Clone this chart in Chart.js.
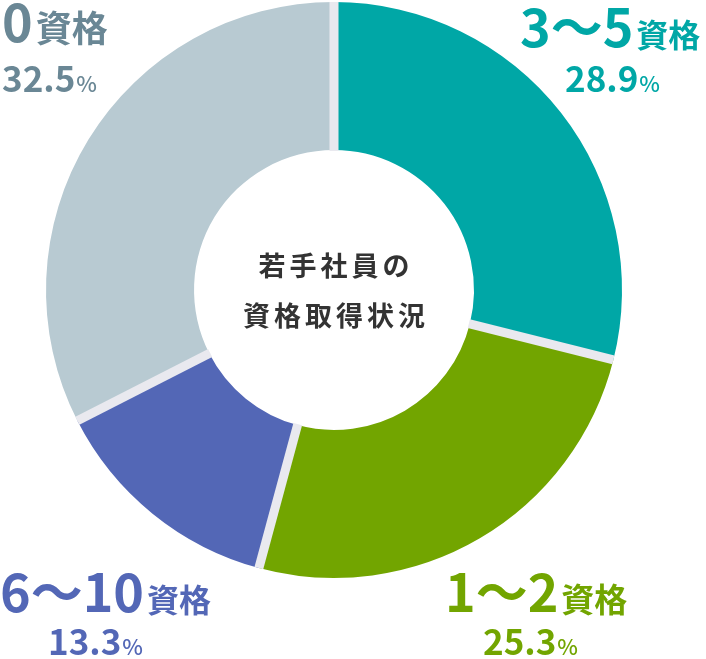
<!DOCTYPE html>
<html lang="ja">
<head>
<meta charset="utf-8">
<script src="https://cdn.jsdelivr.net/npm/chart.js@4"></script>
<style>
  html, body { margin: 0; padding: 0; background: #fff; }
  #wrap { width: 706px; height: 659px; position: relative; }
</style>
</head>
<body>
<div id="wrap"><canvas id="doughnut"></canvas></div>
<script>
const categories = ['3〜5', '1〜2', '6〜10', '0'];
const unitLabel = '資格';
const shares = [28.9, 25.3, 13.3, 32.5];
const centerLines = ['若手社員の', '資格取得状況'];

const sliceColors = ['#00a7a6', '#72a500', '#5367b6', '#b8cad2'];
const textColors = ['#00a7a6', '#72a500', '#5367b6', '#6a8795'];
const sepColor = '#e9e9ef';
const font = '"Noto Sans CJK JP", "Noto Sans", sans-serif';

// where each outer label sits: x of heading / percent, baselines, unit size
const labelPos = [
  { hx: 520, hy: 47, px: 565, py: 92, us: 32 },
  { hx: 445, hy: 612, px: 483, py: 655, us: 33 },
  { hx: 0, hy: 612, px: 48, py: 655, us: 32 },
  { hx: 2, hy: 42, px: 2, py: 92, us: 36 }
];

function drawRun(ctx, x, y, parts) {
  parts.forEach(p => {
    ctx.font = p.f;
    ctx.fillText(p.t, x, y);
    x += ctx.measureText(p.t).width + (p.gap || 0);
  });
}

const ringGaps = {
  id: 'ringGaps',
  afterDatasetsDraw(chart) {
    const ctx = chart.ctx;
    const arcs = chart.getDatasetMeta(0).data;
    ctx.save();
    ctx.strokeStyle = sepColor;
    ctx.lineWidth = 9;
    ctx.lineCap = 'butt';
    arcs.forEach(a => {
      const c = Math.cos(a.startAngle), s = Math.sin(a.startAngle);
      ctx.beginPath();
      ctx.moveTo(a.x + c * (a.innerRadius - 1), a.y + s * (a.innerRadius - 1));
      ctx.lineTo(a.x + c * a.outerRadius, a.y + s * a.outerRadius);
      ctx.stroke();
    });
    ctx.restore();
  }
};

const texts = {
  id: 'texts',
  afterDraw(chart) {
    const ctx = chart.ctx;
    const a = chart.getDatasetMeta(0).data[0];
    ctx.save();
    ctx.textBaseline = 'alphabetic';
    ctx.textAlign = 'left';
    categories.forEach((cat, i) => {
      const p = labelPos[i];
      ctx.fillStyle = textColors[i];
      drawRun(ctx, p.hx, p.hy, [
        { t: cat, f: 'bold 52px ' + font, gap: 3 },
        { t: unitLabel, f: 'bold ' + p.us + 'px ' + font }
      ]);
      drawRun(ctx, p.px, p.py, [
        { t: shares[i].toFixed(1), f: 'bold 35px ' + font, gap: 1 },
        { t: '%', f: '500 22px ' + font }
      ]);
    });
    ctx.fillStyle = '#333333';
    ctx.textAlign = 'center';
    ctx.textBaseline = 'middle';
    ctx.font = 'bold 27px ' + font;
    ctx.letterSpacing = '4px';
    ctx.fillText(centerLines[0], a.x + 2, a.y - 24);
    ctx.fillText(centerLines[1], a.x + 2, a.y + 26);
    ctx.restore();
  }
};

const ctx = document.getElementById('doughnut');

new Chart(ctx, {
  type: 'doughnut',
  data: {
    labels: categories.map(c => c + unitLabel),
    datasets: [{
      data: shares,
      backgroundColor: sliceColors,
      borderWidth: 0
    }]
  },
  options: {
    responsive: true,
    maintainAspectRatio: false,
    animation: false,
    cutout: '48.6%',
    rotation: 0,
    layout: { padding: { left: 46, top: 2, right: 84, bottom: 81 } },
    plugins: {
      legend: { display: false },
      tooltip: { enabled: false }
    }
  },
  plugins: [ringGaps, texts]
});
</script>
</body>
</html>
